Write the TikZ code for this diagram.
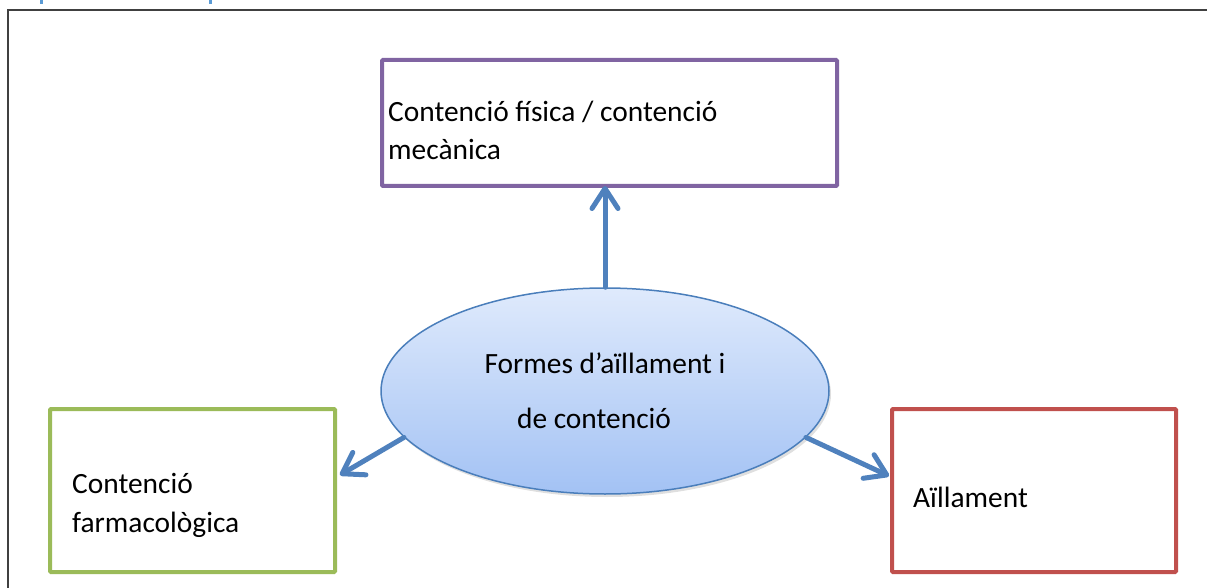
\documentclass[tikz,border=0pt]{standalone}
\usepackage{fontspec}
\setmainfont{Carlito}
\usetikzlibrary{arrows.meta,shapes.geometric,shadows}
\definecolor{purp}{HTML}{8064A2}
\definecolor{grn}{HTML}{9BBB59}
\definecolor{rd}{HTML}{C0504D}
\definecolor{arr}{HTML}{4F81BD}
\definecolor{ellb}{HTML}{4A7EBB}
\definecolor{elltop}{HTML}{DFEAFC}
\definecolor{ellbot}{HTML}{A3C2F4}
\definecolor{frmgray}{HTML}{404040}
\definecolor{capblue}{HTML}{5B9BD5}
\tikzset{
  boxnode/.style={rectangle, line width=4pt, rounded corners=1pt, inner sep=0pt, outer sep=0pt},
  lbl/.style={anchor=base west, inner sep=0pt, font=\fontsize{29.4}{38}\selectfont, align=left},
  clbl/.style={anchor=base, inner sep=0pt, font=\fontsize{29.4}{38}\selectfont},
  conn/.style={draw=arr, line width=5pt, line cap=round, -{Straight Barb[length=20pt,width=26pt,round]}},
}
\begin{document}
\begin{tikzpicture}[x=1pt,y=-1pt]
\useasboundingbox (0,0) rectangle (1207,588);
% frame
\draw[frmgray, line width=2pt] (8,600) -- (8,10) -- (1215,10);
% cut-off caption marks
\fill[capblue] (40,0) rectangle (42.5,4);
\fill[capblue] (209,0) rectangle (211.5,4);
% boxes
\node[boxnode, draw=purp, minimum width=455pt, minimum height=126pt] (pbox) at (609.5,123) {};
\node[boxnode, draw=grn, minimum width=285pt, minimum height=163pt] (gbox) at (192.5,490.5) {};
\node[boxnode, draw=rd, minimum width=284pt, minimum height=163pt] (rbox) at (1034,490.5) {};
% ellipse
\node[ellipse, draw=ellb, line width=1.5pt, top color=elltop, bottom color=ellbot,
      minimum width=448pt, minimum height=206pt, inner sep=0pt,
      drop shadow={shadow xshift=2pt, shadow yshift=-3pt, opacity=0.25}] (ell) at (605,391) {};
% labels
\node[lbl] (t1) at (388,122) {Contenció física / contenció};
\node[lbl] (t2) at (388,160) {mecànica};
\node[lbl] (t3) at (72,493) {Contenció};
\node[lbl] (t4) at (72,532) {farmacològica};
\node[lbl] (t5) at (913,507) {Aïllament};
\node[clbl] (e1) at (605,373) {Formes d’aïllament i};
\node[clbl] (e2) at (594,428) {de contenció};
% connectors
\coordinate (gtip) at (340,475);
\coordinate (rtip) at (889,476);
\draw[conn] (ell.north) -- (ell.north |- pbox.south);
\draw[conn] (ell.193) -- (gtip);
\draw[conn] (ell.-13) -- (rtip);
\end{tikzpicture}
\end{document}
